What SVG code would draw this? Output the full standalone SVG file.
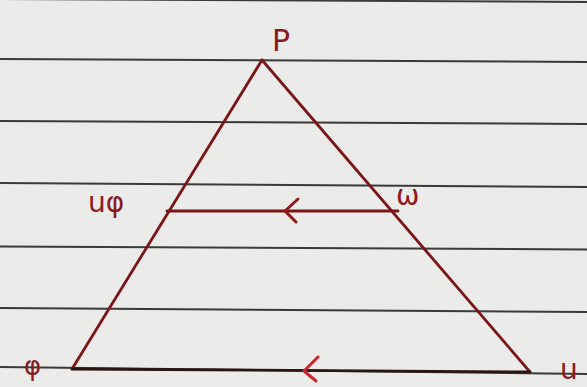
<svg xmlns="http://www.w3.org/2000/svg" width="587" height="387" viewBox="0 0 587 387">
  <style>
    .rule { stroke: #3a3a3a; stroke-width: 2; fill: none; }
    .edge { stroke: #7a1518; stroke-width: 2.8; fill: none; stroke-linecap: round; }
    .base { stroke: #2a1414; stroke-width: 2.8; fill: none; stroke-linecap: round; }
    .arrow { stroke-width: 3; fill: none; stroke-linecap: round; stroke-linejoin: round; }
    .lbl { fill: #8a1a1e; font-family: "DejaVu Sans", sans-serif; }
  </style>
  <rect width="587" height="387" fill="#ebebea"/>
  <g id="paper-rules">
    <line class="rule" x1="0" y1="-1" x2="587" y2="2"/>
    <line class="rule" x1="0" y1="59" x2="587" y2="62"/>
    <line class="rule" x1="0" y1="121" x2="587" y2="124"/>
    <line class="rule" x1="0" y1="183" x2="587" y2="187"/>
    <line class="rule" x1="0" y1="246.5" x2="587" y2="249.5"/>
    <line class="rule" x1="0" y1="308" x2="587" y2="312"/>
    <line class="rule" x1="0" y1="367" x2="587" y2="374"/>
  </g>
  <g id="connectors">
    <line class="edge" x1="262" y1="60" x2="72" y2="369"/>
    <line class="edge" x1="262" y1="60" x2="530" y2="372"/>
    <line class="base" x1="72" y1="369" x2="530" y2="372"/>
    <line class="edge" x1="167" y1="211" x2="398" y2="211"/>
    <polyline class="arrow" stroke="#8e1a20" points="298,199 285,211 296,222"/>
    <polyline class="arrow" stroke="#c8262e" points="318,357 304,371 316,381"/>
  </g>
  <g id="node-P"><text class="lbl" x="272" y="51" font-size="30">P</text></g>
  <g id="node-S"><text class="lbl" x="88" y="212" font-size="28">uφ</text></g>
  <g id="node-T"><text class="lbl" x="396" y="205" font-size="28">ω</text></g>
  <g id="node-Q"><text class="lbl" x="24" y="375" font-size="26">φ</text></g>
  <g id="node-R"><text class="lbl" x="560" y="379" font-size="28">u</text></g>
</svg>
